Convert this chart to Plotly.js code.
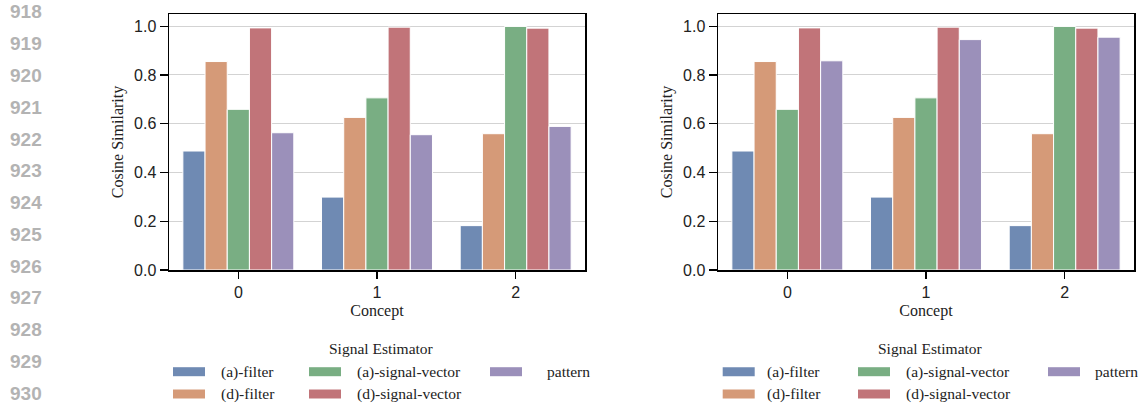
<!DOCTYPE html>
<html><head><meta charset="utf-8">
<script src="https://cdn.plot.ly/plotly-3.0.1.min.js"></script>
<style>html,body{margin:0;padding:0;background:#fff}#chart{width:1140px;height:406px}</style>
</head><body><div id="chart"></div>
<script>
// ---- data ----
const concepts = ['0', '1', '2'];
const estimators = ['(a)-filter', '(d)-filter', '(a)-signal-vector', '(d)-signal-vector', 'pattern'];
const colors = ['#6f8ab3', '#d59a78', '#79ae83', '#c17479', '#9b90ba'];
const yTicks = [0.0, 0.2, 0.4, 0.6, 0.8, 1.0];
const lineNumbers = ['918','919','920','921','922','923','924','925','926','927','928','929','930'];

const aFilter = [0.488, 0.299, 0.182];
const dFilter = [0.855, 0.626, 0.559];
const aSignalVector = [0.659, 0.706, 0.999];
const dSignalVector = [0.993, 0.996, 0.992];
const patternLeft = [0.563, 0.555, 0.589];
const patternRight = [0.858, 0.945, 0.955];

const leftSeries = [aFilter, dFilter, aSignalVector, dSignalVector, patternLeft];
const rightSeries = [aFilter, dFilter, aSignalVector, dSignalVector, patternRight];

// ---- figure ----
const W = 1140, H = 406;
const px = v => v / W;
const py = v => 1 - v / H;

const traces = [];
function addPanel(series, xa, ya) {
  series.forEach((vals, i) => {
    traces.push({
      type: 'bar', x: concepts, y: vals, name: estimators[i],
      xaxis: xa, yaxis: ya, showlegend: false,
      marker: {color: colors[i], line: {color: '#ffffff', width: 1}},
      hoverinfo: 'x+y+name'
    });
  });
}
addPanel(leftSeries, 'x', 'y');
addPanel(rightSeries, 'x2', 'y2');

const tickFont = {family: 'Liberation Sans, Arial, sans-serif', size: 16, color: '#222'};
const titleFont = {family: 'Liberation Serif, Times New Roman, serif', size: 16, color: '#222'};

function xAxis(domain, anchor) {
  return {
    domain: domain, anchor: anchor, type: 'category', range: [-0.5, 2.5],
    showline: true, linecolor: '#000', linewidth: 1.5, mirror: true,
    ticks: 'outside', ticklen: 7, tickwidth: 1.3, tickcolor: '#000',
    showgrid: false, zeroline: false, tickfont: tickFont,
    title: {text: 'Concept', font: titleFont, standoff: 5}
  };
}
function yAxis(domain, anchor) {
  return {
    domain: domain, anchor: anchor, range: [0, 1.05],
    tickvals: yTicks, ticktext: yTicks.map(v => v.toFixed(1)),
    showline: true, linecolor: '#000', linewidth: 1.5, mirror: true,
    ticks: 'outside', ticklen: 8, tickwidth: 1.3, tickcolor: '#000',
    showgrid: true, gridcolor: '#d3d3d3', gridwidth: 1, zeroline: false,
    tickfont: tickFont,
    title: {text: 'Cosine Similarity', font: titleFont, standoff: 6}
  };
}

const yDom = [py(270), py(14)];
const layout = {
  width: W, height: H, margin: {l: 0, r: 0, t: 0, b: 0},
  paper_bgcolor: '#fff', plot_bgcolor: '#fff',
  barmode: 'group', bargap: 0.2, bargroupgap: 0,
  xaxis: xAxis([px(169), px(585)], 'y'),
  yaxis: yAxis(yDom, 'x'),
  xaxis2: xAxis([px(718), px(1134)], 'y2'),
  yaxis2: yAxis(yDom, 'x2'),
  shapes: [], annotations: []
};

// line numbers
lineNumbers.forEach((t, i) => {
  layout.annotations.push({
    text: t, xref: 'paper', yref: 'paper', x: px(8), y: py(12 + i * 31.75),
    xanchor: 'left', yanchor: 'middle', showarrow: false,
    font: {family: 'Liberation Sans, Arial, sans-serif', size: 19, color: '#b3b3b3', weight: 'bold'}
  });
});

// legends (column-major like the original)
const legendSpecs = [
  {title: 381.7, sw: [173, 309, 490], tx: [219, 355, 545]},
  {title: 930, sw: [722.7, 858, 1048], tx: [765, 904, 1093]}
];
const rowY = [371.7, 394];
const legendFont = {family: 'Liberation Serif, Times New Roman, serif', size: 15.5, color: '#222'};
legendSpecs.forEach(spec => {
  layout.annotations.push({
    text: 'Signal Estimator', xref: 'paper', yref: 'paper', x: px(spec.title), y: py(348),
    xanchor: 'center', yanchor: 'middle', showarrow: false, font: legendFont
  });
  estimators.forEach((name, i) => {
    const col = Math.floor(i / 2), row = i % 2;
    const cy = rowY[row];
    layout.shapes.push({
      type: 'rect', xref: 'paper', yref: 'paper',
      x0: px(spec.sw[col]), x1: px(spec.sw[col] + 32), y0: py(cy - 4.5), y1: py(cy + 4.5),
      fillcolor: colors[i], line: {width: 0}
    });
    layout.annotations.push({
      text: name, xref: 'paper', yref: 'paper', x: px(spec.tx[col]), y: py(cy),
      xanchor: 'left', yanchor: 'middle', showarrow: false, font: legendFont
    });
  });
});

Plotly.newPlot('chart', traces, layout, {displayModeBar: false, staticPlot: true});
</script>
</body></html>
